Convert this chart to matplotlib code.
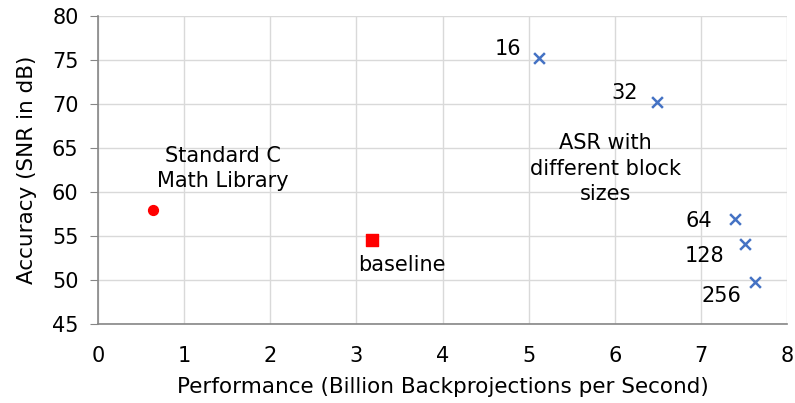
import matplotlib
matplotlib.use("Agg")
import matplotlib.pyplot as plt

# Data
asr_block_sizes = ["16", "32", "64", "128", "256"]
asr_perf = [5.12, 6.49, 7.40, 7.51, 7.63]
asr_snr = [75.2, 70.2, 56.9, 54.1, 49.8]
stdc_perf = [0.64]
stdc_snr = [58.0]
base_perf = [3.18]
base_snr = [54.5]

x_ticks = [0, 1, 2, 3, 4, 5, 6, 7, 8]
y_ticks = [45, 50, 55, 60, 65, 70, 75, 80]

plt.rcParams['font.family'] = ['DejaVu Sans']
fig = plt.figure(figsize=(7.95, 4.03), dpi=100)
ax = fig.add_axes([0.1233, 0.196, 0.8667, 0.7643])

ax.scatter(asr_perf, asr_snr, marker='x', s=60, color='#4472C4', linewidths=1.8, zorder=3)
ax.scatter(stdc_perf, stdc_snr, marker='o', s=50, color='#FF0000', zorder=3)
ax.scatter(base_perf, base_snr, marker='s', s=85, color='#FF0000', zorder=3)

ax.set_xlim(0, 8)
ax.set_ylim(45, 80)
ax.set_xticks(x_ticks)
ax.set_yticks(y_ticks)
ax.grid(True, color='#D9D9D9', linewidth=1.0)
ax.set_axisbelow(True)
for s in ['top', 'right']:
    ax.spines[s].set_visible(False)
for s in ['left', 'bottom']:
    ax.spines[s].set_color('#868686')
    ax.spines[s].set_linewidth(1.2)
ax.tick_params(axis='x', length=0, labelsize=15, pad=16, colors='#000000')
ax.tick_params(axis='y', length=6, labelsize=15, color='#868686', pad=8)

ax.set_xlabel("Performance (Billion Backprojections per Second)", fontsize=15.5, labelpad=8)
ax.set_ylabel("Accuracy (SNR in dB)", fontsize=15.5, labelpad=11)

# Point labels for ASR series
offsets = [(-13, 7), (-14, 7), (-17, -1), (-15, -9), (-10, -10)]
for lab, x, y, (dx, dy) in zip(asr_block_sizes, asr_perf, asr_snr, offsets):
    ax.annotate(lab, (x, y), xytext=(dx, dy), textcoords='offset points',
                ha='right', va='center', fontsize=15)

ax.text(1.45, 62.7, "Standard C\nMath Library", ha='center', va='center', fontsize=15, linespacing=1.33)
ax.text(3.53, 51.7, "baseline", ha='center', va='center', fontsize=15)
ax.text(5.89, 62.65, "ASR with\ndifferent block\nsizes", ha='center', va='center', fontsize=15, linespacing=1.33)

fig.savefig("out.png", dpi=100)
